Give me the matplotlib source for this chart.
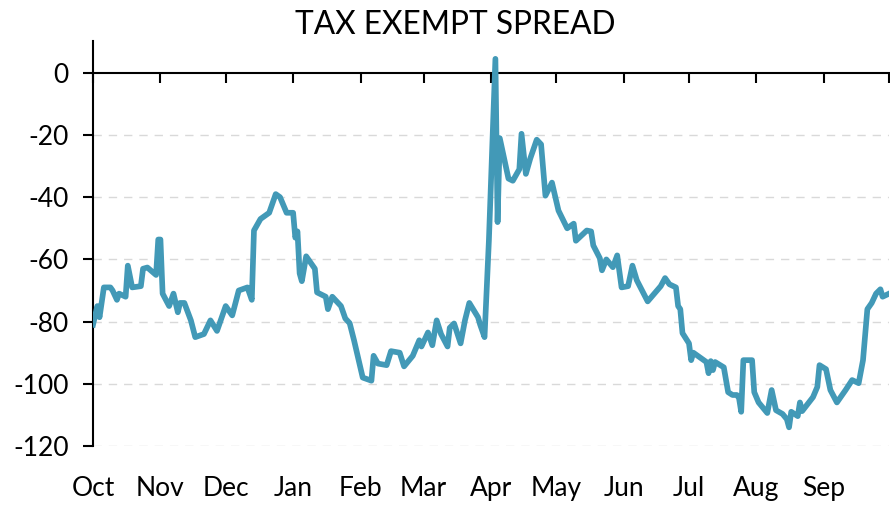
import numpy as np
import pandas as pd
import matplotlib
matplotlib.use("Agg")
import matplotlib.pyplot as plt

plt.rcParams['font.family'] = ['Lato', 'DejaVu Sans']

# days since 2019-10-01 and spread values (bp)
days = [0, 2, 3, 5, 8, 9, 11, 12, 15, 16, 18, 22, 23, 25, 29, 30, 31, 32, 35, 37,
        39, 40, 42, 45, 47, 51, 54, 57, 61, 64, 67, 71, 73, 74, 77, 81, 84, 86, 89, 92,
        93, 94, 95, 96, 98, 102, 103, 107, 108, 110, 114, 116, 118, 120, 122, 124, 128, 129, 131, 135,
        137, 141, 143, 147, 150, 151, 154, 156, 158, 160, 163, 164, 166, 169, 171, 173, 177, 178, 180, 182,
        185, 186, 187, 191, 193, 196, 197, 199, 201, 204, 206, 208, 211, 214, 218, 221, 222, 227, 229,
        230, 233, 234, 236, 239, 241, 243, 246, 248, 250, 255, 261, 263, 265, 268, 269, 270, 271, 274, 275,
        276, 278, 282, 283, 284, 285, 286, 290, 292, 294, 296, 297, 298, 299, 303, 304, 306, 310, 312, 314,
        317, 319, 320, 321, 324, 325, 326, 331, 333, 334, 337, 339, 342, 346, 349, 352, 354, 356, 358, 360,
        362, 363, 366]
spread = [-81, -75, -78.6, -69, -69, -70, -73, -71, -72, -62, -69, -68.6, -63, -62.6, -65, -53.6, -53.6, -71, -75, -71,
          -77, -74, -74, -79.6, -85, -84, -79.6, -83, -75, -78, -70, -69, -73, -50.7, -47, -45, -39, -40, -45, -45,
          -53, -51, -64.5, -67, -59, -63, -70.6, -72, -76, -72, -75, -79, -80.5, -86, -92, -98, -99, -91, -93.5, -94,
          -89.5, -90, -94.4, -91, -86, -88, -83.5, -87.6, -79.6, -84, -88, -82, -80.6, -87, -79.6, -74, -78.6, -81, -85, -54,
          4.5, -48, -21, -34, -34.7, -31, -19.6, -32.5, -27.6, -21.5, -23, -39.5, -35.3, -44.3, -50, -48.5, -54, -50.7, -51,
          -55.5, -59.6, -63.5, -60, -62.5, -58.7, -69, -68.6, -62, -66.7, -73.5, -68.6, -66, -68, -69, -75, -76, -83.7, -87, -92.4,
          -90, -91, -93, -96.6, -92.7, -95.6, -93, -94.7, -102.7, -103.6, -103.6, -104.6, -109, -92.4, -92.4, -102.7, -106, -109.4, -102, -108.5,
          -109.7, -111.4, -114, -109, -110.4, -106, -108.8, -104.3, -101, -94, -95.3, -102, -106, -102, -98.8, -99.8, -92.4, -76, -74, -71,
          -69.6, -72, -71]

months = ['Oct', 'Nov', 'Dec', 'Jan', 'Feb', 'Mar', 'Apr', 'May', 'Jun', 'Jul', 'Aug', 'Sep']
yticks = [0, -20, -40, -60, -80, -100, -120]

start = pd.Timestamp('2019-10-01')
dates = start + pd.to_timedelta(days, unit='D')
month_starts = pd.date_range('2019-10-01', '2020-10-01', freq='MS')

fig = plt.figure(figsize=(8.9, 5.09), dpi=100)
ax = fig.add_axes([0.1045, 0.1238, 0.8945, 0.796])

for yv in yticks[1:]:
    ax.axhline(yv, color='#d9d9d9', lw=1, ls=(0, (6, 5)), zorder=1)

ax.plot(dates, spread, color='#4299b7', lw=4.1, solid_joinstyle='round', zorder=3)

ax.set_xlim(month_starts[0], month_starts[-1])
ax.set_ylim(-120, 10.3)

for s in ['top', 'right']:
    ax.spines[s].set_visible(False)
ax.spines['left'].set_linewidth(1.5)
ax.spines['bottom'].set_position(('data', 0))
ax.spines['bottom'].set_linewidth(1.5)
ax.spines['bottom'].set_zorder(2)

ax.set_xticks(month_starts)
ax.tick_params(axis='x', direction='out', length=7, width=1.5, labelbottom=False)
ax.set_yticks(yticks)
ax.set_yticklabels([str(v) for v in yticks])
ax.tick_params(axis='y', direction='out', length=7.5, width=1.5, labelsize=19, pad=10)

for m, d in zip(months, month_starts[:-1]):
    ax.text(d, -0.105, m, transform=ax.get_xaxis_transform(), ha='center', va='center', fontsize=19)

fig.text(0.511, 0.95, 'TAX EXEMPT SPREAD', ha='center', va='center', fontsize=22.8)

fig.savefig('out.png', dpi=100)
